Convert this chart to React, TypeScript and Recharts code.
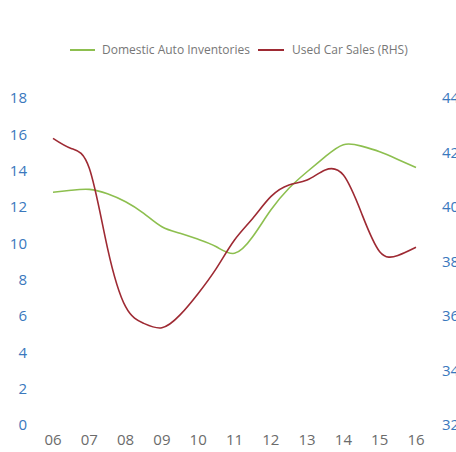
import React from "react";
import { LineChart, Line, XAxis, YAxis } from "recharts";

const years = [6, 6.5, 7, 7.5, 8, 8.5, 9, 9.5, 10, 10.5, 11, 11.5, 12, 12.5, 13, 13.5, 14, 14.5, 15, 15.5, 16];
const inventories = [12.81, 12.92, 12.97, 12.73, 12.29, 11.65, 10.91, 10.55, 10.22, 9.81, 9.45, 10.36, 11.83, 13.03, 13.94, 14.77, 15.43, 15.35, 15.04, 14.62, 14.18];
const usedCarSales = [42.52, 42.15, 41.42, 38.5, 36.34, 35.73, 35.57, 36.04, 36.83, 37.75, 38.79, 39.58, 40.38, 40.81, 40.99, 41.36, 41.17, 39.77, 38.36, 38.22, 38.52];
const xTicks = [6, 7, 8, 9, 10, 11, 12, 13, 14, 15, 16];
const leftTicks = [0, 2, 4, 6, 8, 10, 12, 14, 16, 18];
const rightTicks = [32, 34, 36, 38, 40, 42, 44];
const seriesNames = ["Domestic Auto Inventories", "Used Car Sales (RHS)"];

const GREEN = "#8dbf4f";
const RED = "#9e2a33";
const BLUE = "#3a78bd";
const FONT = "'Open Sans', sans-serif";

const data = years.map((y, i) => ({ year: y, inv: inventories[i], sales: usedCarSales[i] }));

const legendText: React.CSSProperties = {
  position: "absolute",
  top: 42,
  fontFamily: FONT,
  fontSize: 12,
  color: "#777",
  whiteSpace: "nowrap",
  lineHeight: "16px",
};

export default function App() {
  return (
    <div style={{ position: "absolute", left: 0, top: 0, width: 456, height: 452 }}>
      <div style={{ position: "absolute", left: 70, top: 49, width: 25, height: 2, background: GREEN }} />
      <div style={{ ...legendText, left: 102 }}>{seriesNames[0]}</div>
      <div style={{ position: "absolute", left: 258, top: 49, width: 26, height: 2, background: RED }} />
      <div style={{ ...legendText, left: 292 }}>{seriesNames[1]}</div>
      <LineChart width={456} height={452} data={data} margin={{ top: 98, right: 0, bottom: 7, left: 0 }}>
        <XAxis
          dataKey="year"
          type="number"
          domain={[6, 16]}
          ticks={xTicks}
          tickFormatter={(v: number) => String(v).padStart(2, "0")}
          axisLine={false}
          tickLine={false}
          tickSize={0}
          tickMargin={9}
          height={20}
          interval={0}
          tick={{ fill: "#6b6b6b", fontSize: 15, fontFamily: FONT }}
        />
        <YAxis
          yAxisId="left"
          domain={[0, 18]}
          ticks={leftTicks}
          axisLine={false}
          tickLine={false}
          tickSize={0}
          tickMargin={26}
          width={53}
          interval={0}
          tick={{ fill: BLUE, fontSize: 15, fontFamily: FONT }}
        />
        <YAxis
          yAxisId="right"
          orientation="right"
          domain={[32, 44]}
          ticks={rightTicks}
          axisLine={false}
          tickLine={false}
          tickSize={0}
          tickMargin={26}
          width={40}
          interval={0}
          tick={{ fill: BLUE, fontSize: 15, fontFamily: FONT, textAnchor: "start" }}
        />
        <Line yAxisId="left" type="natural" dataKey="inv" stroke={GREEN} strokeWidth={1.6} dot={false} isAnimationActive={false} />
        <Line yAxisId="right" type="natural" dataKey="sales" stroke={RED} strokeWidth={1.6} dot={false} isAnimationActive={false} />
      </LineChart>
    </div>
  );
}
